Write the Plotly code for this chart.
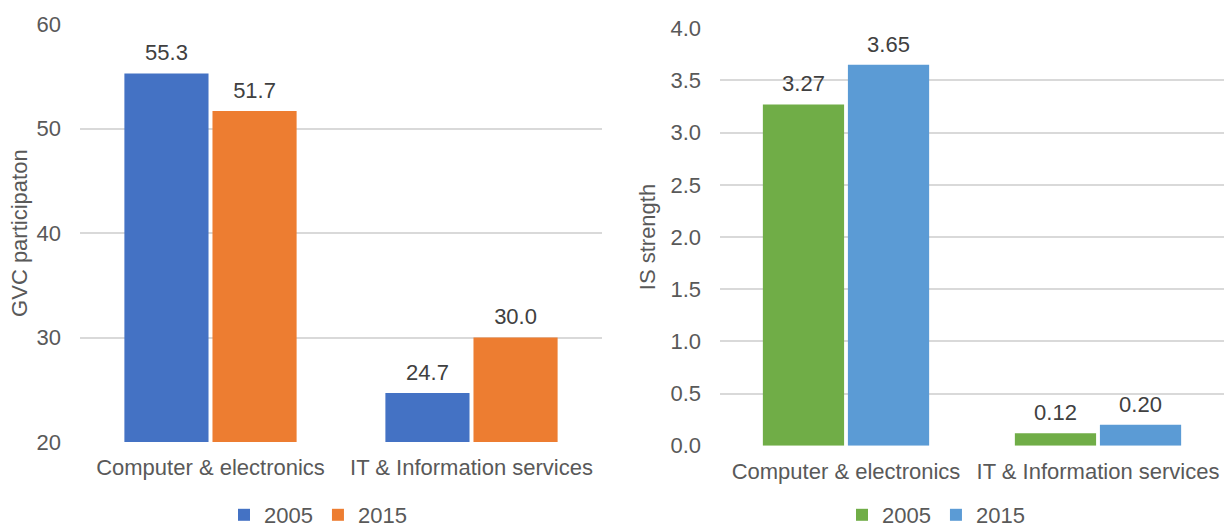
import plotly.graph_objects as go

categories = ["Computer & electronics", "IT & Information services"]
years = ["2005", "2015"]
gvc_2005 = [55.3, 24.7]
gvc_2015 = [51.7, 30.0]
is_2005 = [3.27, 0.12]
is_2015 = [3.65, 0.20]

left_colors = ["#4472C4", "#ED7D31"]
right_colors = ["#70AD47", "#5B9BD5"]

FONT = "Liberation Sans, Arial, sans-serif"
AXIS_COLOR = "#595959"
LABEL_COLOR = "#404040"
GRID = "#D9D9D9"
FS = 22


def label_tpl(fmt):
    return "<span style='font-size:%dpx'>%%{y:%s}</span><br>\u00a0" % (FS, fmt)


fig = go.Figure()

for name, vals, col in zip(years, [gvc_2005, gvc_2015], left_colors):
    fig.add_trace(go.Bar(
        x=categories, y=vals, name=name, marker=dict(color=col, line=dict(width=0)),
        xaxis="x", yaxis="y", legend="legend",
        texttemplate=label_tpl(".1f"), textposition="outside", cliponaxis=False,
        textfont=dict(family=FONT, size=7, color=LABEL_COLOR),
    ))

for name, vals, col in zip(years, [is_2005, is_2015], right_colors):
    fig.add_trace(go.Bar(
        x=categories, y=vals, name=name, marker=dict(color=col, line=dict(width=0)),
        xaxis="x2", yaxis="y2", legend="legend2",
        texttemplate=label_tpl(".2f"), textposition="outside", cliponaxis=False,
        textfont=dict(family=FONT, size=7, color=LABEL_COLOR),
    ))

axis_common = dict(
    showline=False, zeroline=False, ticks="",
    tickfont=dict(family=FONT, size=FS, color=AXIS_COLOR),
    automargin=False,
)

fig.update_layout(
    width=1224, height=529,
    margin=dict(l=0, r=0, t=0, b=0, autoexpand=False),
    paper_bgcolor="white", plot_bgcolor="white",
    barmode="group", bargap=0.325, bargroupgap=0.045,
    font=dict(family=FONT, size=FS, color=AXIS_COLOR),
    xaxis=dict(domain=[80/1224, 602/1224], anchor="y", showgrid=False,
               ticklabelstandoff=10, **axis_common),
    yaxis=dict(domain=[(529-442)/529, (529-24.3)/529], anchor="x", range=[20, 60],
               dtick=10, showgrid=True, gridcolor=GRID, gridwidth=1.5,
               ticklabelstandoff=18,
               title=dict(text="GVC participaton", font=dict(family=FONT, size=FS, color=AXIS_COLOR), standoff=2),
               **axis_common),
    xaxis2=dict(domain=[720/1224, 1.0], anchor="y2", showgrid=False,
                ticklabelstandoff=10, **axis_common),
    yaxis2=dict(domain=[(529-445.7)/529, (529-28.3)/529], anchor="x2", range=[0, 4.0],
                dtick=0.5, tickformat=".1f", showgrid=True, gridcolor=GRID, gridwidth=1.5,
                ticklabelstandoff=18,
                title=dict(text="IS strength", font=dict(family=FONT, size=FS, color=AXIS_COLOR), standoff=8),
                **axis_common),
    legend=dict(orientation="h", xref="container", yref="container",
                x=318/1224, xanchor="center", y=(529-515)/529, yanchor="middle",
                itemwidth=30, tracegroupgap=0,
                font=dict(family=FONT, size=FS, color=AXIS_COLOR), bgcolor="rgba(0,0,0,0)"),
    legend2=dict(orientation="h", xref="container", yref="container",
                 x=936/1224, xanchor="center", y=(529-515)/529, yanchor="middle",
                 itemwidth=30, tracegroupgap=0,
                 font=dict(family=FONT, size=FS, color=AXIS_COLOR), bgcolor="rgba(0,0,0,0)"),
)

fig.write_html("out.html")
